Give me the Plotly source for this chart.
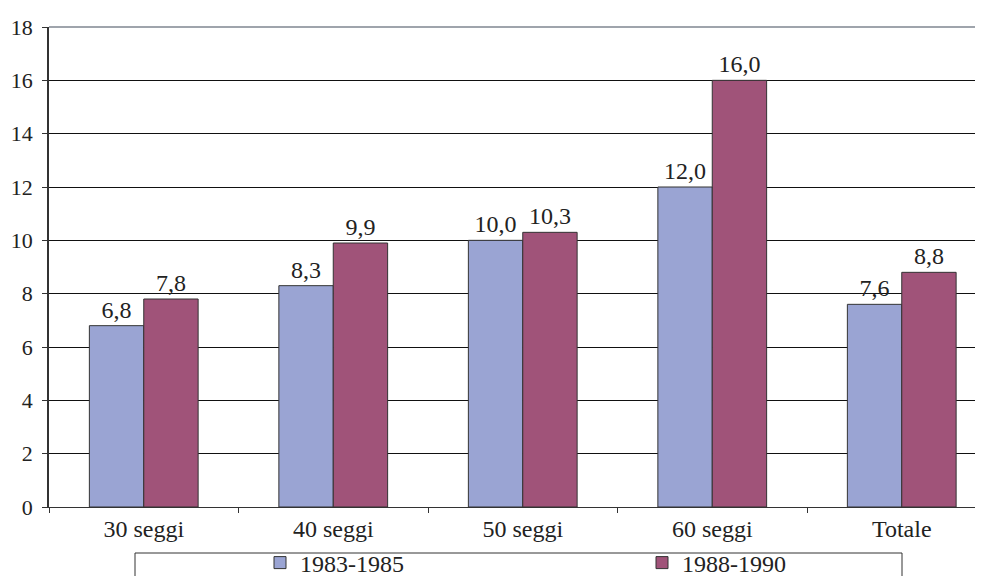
import plotly.graph_objects as go

categories = ["30 seggi", "40 seggi", "50 seggi", "60 seggi", "Totale"]
series_1983 = [6.8, 8.3, 10.0, 12.0, 7.6]
series_1988 = [7.8, 9.9, 10.3, 16.0, 8.8]
series_names = ["1983-1985", "1988-1990"]
y_ticks = [0, 2, 4, 6, 8, 10, 12, 14, 16, 18]

def fmt(v):
    return f"{v:.1f}".replace(".", ",")

FONT = "Liberation Serif"
# page is offset by the browser's 8px body margin
L, T = 41, 19
PW, PH = 942, 480

fig = go.Figure()
fig.add_trace(go.Bar(
    x=categories, y=series_1983, name=series_names[0], legend="legend",
    marker=dict(color="#9AA4D3", line=dict(color="#333333", width=1)),
    text=[fmt(v) for v in series_1983], textposition="outside",
    textfont=dict(size=24, color="#222", family=FONT), cliponaxis=False,
))
fig.add_trace(go.Bar(
    x=categories, y=series_1988, name=series_names[1], legend="legend2",
    marker=dict(color="#A05379", line=dict(color="#333333", width=1)),
    text=[fmt(v) for v in series_1988], textposition="outside",
    textfont=dict(size=24, color="#222", family=FONT), cliponaxis=False,
))

leg_y = (499 - 555) / PH
leg_common = dict(orientation="h", yanchor="middle", xanchor="left", y=leg_y,
                  font=dict(size=24, family=FONT, color="#222"),
                  bgcolor="rgba(0,0,0,0)", itemwidth=30)
fig.update_layout(
    width=983, height=576,
    margin=dict(l=L, r=0, t=T, b=576 - T - PH, autoexpand=False),
    paper_bgcolor="white", plot_bgcolor="white",
    font=dict(family=FONT, size=24, color="#222"),
    barmode="group", bargap=0.426, bargroupgap=0,
    showlegend=True,
    legend=dict(x=(252 - L) / PW, **leg_common),
    legend2=dict(x=(634 - L) / PW, **leg_common),
)
fig.update_xaxes(
    range=[-0.5, 4.471], tickson="boundaries", ticks="outside", ticklen=5,
    tickcolor="#333", showline=True, linecolor="#333", linewidth=1,
    mirror=False,
    tickfont=dict(size=24, family=FONT), showgrid=False, automargin=False,
)
fig.update_yaxes(
    range=[0, 18], tickvals=y_ticks, ticks="outside", ticklen=5, tickcolor="#333",
    showline=True, linecolor="#333", linewidth=1.5,
    showgrid=True, gridcolor="#111", gridwidth=1, zeroline=False,
    tickfont=dict(size=22, family=FONT), ticklabelstandoff=5, automargin=False,
)
# top border of the plot area (gridline at 18)
fig.add_shape(type="line", xref="paper", yref="paper", x0=0, x1=1, y0=1, y1=1,
              line=dict(color="#7F8690", width=1.5))
# legend frame
fig.add_shape(type="rect", xref="paper", yref="paper",
              x0=(127 - L) / PW, x1=(894 - L) / PW, y0=-0.3, y1=(499 - 545) / PH,
              line=dict(color="#333", width=1), fillcolor="rgba(0,0,0,0)")
fig.write_html("out.html")
